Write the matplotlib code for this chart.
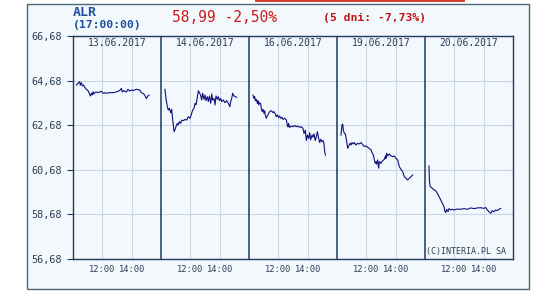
import matplotlib
matplotlib.use("Agg")
import matplotlib.pyplot as plt
from matplotlib.patches import Rectangle

# Dane notowan ALR (godzina, kurs) dla pieciu sesji
days = ["13.06.2017", "14.06.2017", "16.06.2017", "19.06.2017", "20.06.2017"]

t1 = [10.23, 10.34, 10.45, 10.50, 10.57, 10.64, 10.73, 10.80, 10.91, 11.02, 11.09, 11.18, 11.25,
      11.32, 11.36, 11.43, 11.48, 11.59, 11.70, 11.82, 11.93, 12.05, 12.16, 12.27, 12.50, 12.73,
      12.95, 13.18, 13.30, 13.36, 13.45, 13.64, 13.75, 13.86, 13.98, 14.09, 14.32, 14.55, 14.66,
      14.77, 14.89, 15.00, 15.11, 15.18]
p1 = [64.48, 64.56, 64.63, 64.48, 64.59, 64.44, 64.48, 64.38, 64.29, 64.23, 64.14, 63.99, 64.11,
      64.03, 64.18, 64.08, 64.14, 64.17, 64.14, 64.17, 64.20, 64.11, 64.14, 64.11, 64.14, 64.14,
      64.17, 64.23, 64.33, 64.17, 64.23, 64.17, 64.29, 64.21, 64.26, 64.23, 64.29, 64.26, 64.14,
      64.11, 64.03, 63.88, 63.99, 64.03]

t2 = [10.27, 10.34, 10.43, 10.50, 10.57, 10.66, 10.73, 10.80, 10.89, 10.96, 11.02, 11.11, 11.18,
      11.25, 11.34, 11.41, 11.52, 11.64, 11.75, 11.86, 11.98, 12.09, 12.16, 12.25, 12.32, 12.39,
      12.48, 12.55, 12.61, 12.70, 12.77, 12.84, 12.93, 13.00, 13.07, 13.16, 13.23, 13.30, 13.39,
      13.46, 13.52, 13.61, 13.68, 13.75, 13.84, 13.91, 13.98, 14.07, 14.14, 14.25, 14.36, 14.48,
      14.59, 14.70, 14.75, 14.82, 14.89, 14.98, 15.05, 15.16]
p2 = [64.29, 63.88, 63.51, 63.36, 63.44, 63.24, 63.39, 62.91, 62.39, 62.49, 62.61, 62.76, 62.69,
      62.84, 62.76, 62.91, 62.88, 62.94, 62.91, 63.06, 62.99, 63.21, 63.36, 63.44, 63.66, 63.59,
      63.96, 64.23, 64.14, 64.03, 63.81, 64.11, 63.84, 64.03, 63.78, 63.96, 63.74, 63.99, 63.66,
      64.08, 63.81, 63.88, 63.59, 63.99, 63.84, 63.96, 63.78, 63.88, 63.74, 63.81, 63.69, 63.78,
      63.66, 63.51, 63.74, 63.88, 64.11, 63.99, 63.96, 63.93]

t3 = [10.27, 10.34, 10.39, 10.43, 10.50, 10.57, 10.61, 10.66, 10.73, 10.80, 10.84, 10.89, 10.96,
      11.02, 11.07, 11.11, 11.18, 11.25, 11.34, 11.41, 11.52, 11.64, 11.70, 11.80, 11.86, 11.93,
      12.02, 12.09, 12.16, 12.25, 12.32, 12.43, 12.55, 12.61, 12.66, 12.70, 12.77, 12.89, 13.00,
      13.11, 13.23, 13.34, 13.46, 13.57, 13.68, 13.75, 13.84, 13.91, 13.98, 14.07, 14.14, 14.20,
      14.30, 14.36, 14.43, 14.52, 14.59, 14.66, 14.75, 14.82, 14.89, 14.98, 15.05, 15.11, 15.16,
      15.21]
p3 = [64.03, 63.88, 63.96, 63.78, 63.84, 63.66, 63.78, 63.59, 63.69, 63.63, 63.44, 63.29, 63.39,
      63.21, 63.33, 63.14, 62.99, 63.09, 63.21, 63.29, 63.33, 63.24, 63.29, 63.18, 63.06, 63.14,
      63.03, 63.09, 62.99, 63.03, 62.94, 62.99, 62.91, 62.69, 62.61, 62.76, 62.58, 62.64, 62.61,
      62.67, 62.61, 62.64, 62.58, 62.61, 62.54, 62.31, 62.46, 61.99, 62.24, 62.09, 62.34, 62.02,
      62.24, 62.14, 62.29, 61.99, 62.17, 62.39, 62.09, 61.90, 62.05, 61.94, 61.99, 61.87, 61.49,
      61.34]

t4 = [10.27, 10.34, 10.39, 10.43, 10.50, 10.57, 10.66, 10.73, 10.80, 10.89, 10.96, 11.02, 11.11,
      11.18, 11.30, 11.41, 11.52, 11.64, 11.75, 11.86, 11.98, 12.09, 12.20, 12.32, 12.39, 12.48,
      12.55, 12.61, 12.66, 12.70, 12.77, 12.84, 12.89, 13.00, 13.11, 13.23, 13.30, 13.34, 13.39,
      13.46, 13.57, 13.68, 13.80, 13.91, 14.02, 14.14, 14.25, 14.36, 14.48, 14.59, 14.70, 14.82,
      14.93, 15.05, 15.16]
p4 = [62.24, 62.69, 62.73, 62.46, 62.32, 62.29, 61.94, 61.64, 61.75, 61.87, 61.79, 61.90, 61.84,
      61.90, 61.79, 61.87, 61.84, 61.90, 61.81, 61.72, 61.75, 61.69, 61.64, 61.57, 61.45, 61.34,
      61.12, 60.97, 61.05, 60.94, 61.12, 60.75, 61.05, 60.97, 61.09, 61.15, 61.30, 61.19, 61.42,
      61.30, 61.39, 61.30, 61.27, 61.30, 61.19, 61.12, 60.82, 60.70, 60.60, 60.37, 60.30, 60.22,
      60.30, 60.37, 60.45]

t5 = [10.27, 10.30, 10.34, 10.43, 10.57, 10.73, 10.84, 10.96, 11.07, 11.18, 11.30, 11.34, 11.41,
      11.48, 11.57, 11.64, 11.75, 11.86, 11.98, 12.20, 12.43, 12.66, 12.89, 13.11, 13.34, 13.57,
      13.80, 14.02, 14.14, 14.25, 14.36, 14.48, 14.59, 14.70, 14.82, 14.93, 15.05, 15.16]
p5 = [60.85, 60.22, 59.95, 59.89, 59.80, 59.74, 59.62, 59.48, 59.33, 59.18, 59.03, 58.85, 58.76,
      58.91, 58.80, 58.94, 58.88, 58.91, 58.88, 58.92, 58.91, 58.94, 58.91, 58.97, 58.94, 58.97,
      58.98, 58.95, 58.99, 58.88, 58.80, 58.73, 58.85, 58.80, 58.88, 58.85, 58.91, 58.95]

times = [t1, t2, t3, t4, t5]
prices = [p1, p2, p3, p4, p5]

y_ticks = [56.68, 58.68, 60.68, 62.68, 64.68, 66.68]
hour_ticks = [12, 14]

# Os X: kazda sesja to 6 godzin od 10:00
day_start = 10
day_len = 6

W, H = 558, 293
navy = "#1b3a5c"
grid_c = "#c8d6e6"
bg = "#f3f8fd"
mono = "DejaVu Sans Mono"

fig = plt.figure(figsize=(W / 100, H / 100), dpi=100)
fig.patch.set_facecolor("white")

# Tlo panelu i ramka (pod osiami)
fig.patches.append(Rectangle((27 / W, 4 / H), 502 / W, 285 / H, transform=fig.transFigure,
                             facecolor=bg, edgecolor="#4a6478", linewidth=1.0, zorder=-5))
fig.patches.append(Rectangle((255 / W, 1 - 1.5 / H), 210 / W, 1.5 / H, transform=fig.transFigure,
                             facecolor="#d0402c", edgecolor="none", zorder=-5))

ax = fig.add_axes([73 / W, 1 - 259 / H, 440 / W, 223 / H])
ax.set_facecolor(bg)

for i in range(len(days)):
    x = [i * day_len + (t - day_start) for t in times[i]]
    ax.plot(x, prices[i], color="#10107a", lw=0.8, zorder=3)
    ax.text(i * day_len + day_len / 2, 0.97, days[i], transform=ax.get_xaxis_transform(),
            ha="center", va="center", fontsize=7, family=mono, color="#2a3f55")
    if i > 0:
        ax.axvline(i * day_len, color=navy, lw=1.1, zorder=2)

x_ticks = [i * day_len + (h - day_start) for i in range(len(days)) for h in hour_ticks]
x_labels = [f"{h}:00" for i in range(len(days)) for h in hour_ticks]

ax.set_xlim(0, len(days) * day_len)
ax.set_ylim(y_ticks[0], y_ticks[-1])
ax.set_xticks(x_ticks)
ax.set_xticklabels(x_labels)
ax.set_yticks(y_ticks)
ax.set_yticklabels([f"{v:.2f}".replace(".", ",") for v in y_ticks])
ax.grid(True, color=grid_c, lw=0.8, zorder=1)
ax.set_axisbelow(True)

ax.tick_params(axis="x", length=0, pad=4, labelsize=6.3, labelcolor="#2a3f55")
ax.tick_params(axis="y", length=4, width=0.8, color=navy, pad=4, labelsize=7.3, labelcolor="#2a3f55")
for lab in ax.get_xticklabels() + ax.get_yticklabels():
    lab.set_family(mono)
for s in ax.spines.values():
    s.set_color(navy)
    s.set_linewidth(1.0)

# krotkie znaczniki po prawej stronie
sec = ax.secondary_yaxis("right")
sec.set_yticks(y_ticks)
sec.tick_params(direction="in", length=2.5, color=navy, labelright=False)
sec.spines["right"].set_visible(False)

# Naglowek
fig.text(73 / W, 1 - 12.5 / H, "ALR", fontsize=9.5, family=mono, weight="bold", color="#1d4f9c",
         ha="left", va="center")
fig.text(73 / W, 1 - 25 / H, "(17:00:00)", fontsize=8.2, family=mono, weight="bold",
         color="#1d4f9c", ha="left", va="center")
fig.text(172 / W, 1 - 18 / H, "58,99 -2,50%", fontsize=10.5, family=mono, weight="medium",
         color="#cc1b1b", ha="left", va="center")
fig.text(323 / W, 1 - 18 / H, "(5 dni: -7,73%)", fontsize=8.2, family=mono, weight="bold",
         color="#c01414", ha="left", va="center")
ax.text(0.985, 0.035, "(C)INTERIA.PL SA", transform=ax.transAxes, ha="right", va="center",
        fontsize=6, family=mono, color="#2a3f55")

fig.savefig("out.png", dpi=100, facecolor=fig.get_facecolor())
